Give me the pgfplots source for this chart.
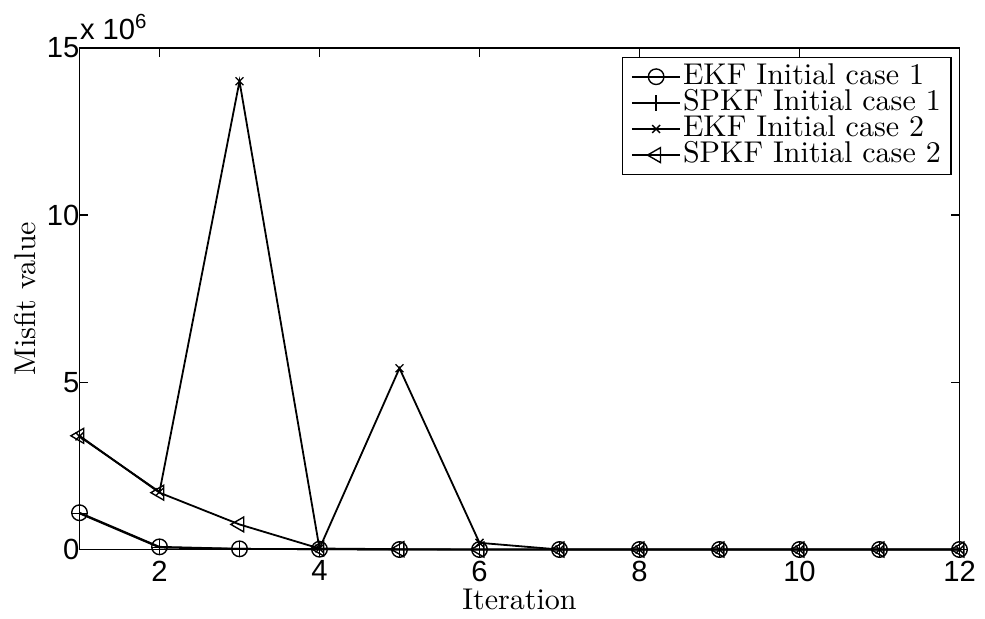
\documentclass[border=0pt]{standalone}
\usepackage{pgfplots}
\pgfplotsset{compat=1.18}
\usepackage{fontspec}
\newfontfamily\arial{Liberation Sans}

\begin{document}
\begin{tikzpicture}
\begin{axis}[
  scale only axis,
  width=316.6pt, height=180.5pt,
  xmin=1, xmax=12, ymin=0, ymax=15e6,
  xtick={2,4,6,8,10,12},
  ytick={0,5e6,10e6,15e6},
  yticklabels={0,5,10,15},
  scaled y ticks=false,
  tick align=inside,
  major tick length=3.2pt,
  axis line style={line width=0.6pt},
  every tick/.style={line width=0.5pt, black},
  /pgf/number format/assume math mode=true,
  tick label style={font=\fontsize{10.5}{12}\selectfont\arial},
  xticklabel style={yshift=-0.5pt},
  yticklabel style={xshift=3.5pt},
  xlabel={Iteration},
  ylabel={Misfit value},
  xlabel style={at={(axis description cs:0.5,-0.099)}, anchor=center},
  ylabel style={at={(axis description cs:-0.062,0.5)}, anchor=center},
  label style={font=\fontsize{10.8}{12}\selectfont},
  clip=false,
  legend cell align=left,
  legend style={at={(0.991,0.982)}, anchor=north east, draw=black,
    line width=0.5pt, font=\fontsize{10.8}{11}\selectfont,
    inner xsep=3pt, inner ysep=2.2pt, row sep=0pt,
    nodes={text height=7.3pt, text depth=1.9pt, inner ysep=0.1pt, inner xsep=0.6pt}},
  legend image code/.code={%
    \draw[mark repeat=2,mark phase=2] plot coordinates {(0pt,0pt)(8.75pt,0pt)(17.5pt,0pt)};},
  every axis plot/.append style={black, line width=0.65pt},
]
% EKF, initial case 1
\addplot[mark=o, mark size=2.8pt, mark options={solid, line width=0.5pt}] coordinates {
  (1,1.10e6) (2,0.08e6) (3,0.02e6) (4,0.01e6) (5,0) (6,0) (7,0) (8,0) (9,0) (10,0) (11,0) (12,0)};
\addlegendentry{EKF Initial case 1}
% SPKF, initial case 1
\addplot[mark=+, mark size=2.8pt, mark options={solid, line width=0.5pt}] coordinates {
  (1,1.08e6) (2,0.06e6) (3,0.02e6) (4,0.01e6) (5,0) (6,0) (7,0) (8,0) (9,0) (10,0) (11,0) (12,0)};
\addlegendentry{SPKF Initial case 1}
% EKF, initial case 2
\addplot[mark=x, mark size=2pt, mark options={solid, line width=0.5pt}] coordinates {
  (1,3.38e6) (2,1.72e6) (3,14.0e6) (4,0.03e6) (5,5.42e6) (6,0.20e6) (7,0) (8,0) (9,0) (10,0) (11,0) (12,0)};
\addlegendentry{EKF Initial case 2}
% SPKF, initial case 2
\addplot[mark=triangle, mark size=3.1pt, mark options={solid, rotate=90, line width=0.5pt}] coordinates {
  (1,3.40e6) (2,1.70e6) (3,0.75e6) (4,0.03e6) (5,0.01e6) (6,0) (7,0) (8,0) (9,0) (10,0) (11,0) (12,0)};
\addlegendentry{SPKF Initial case 2}
% exponent label of the y axis
\node[anchor=base west, inner sep=0pt, font=\fontsize{10.5}{12}\selectfont\arial]
  at (rel axis cs:0,1) [yshift=2.9pt] {x 10\textsuperscript{6}};
\end{axis}
\path[use as bounding box] (-28.6pt,-24.3pt) rectangle (323.4pt,197.7pt);
\end{tikzpicture}
\end{document}
